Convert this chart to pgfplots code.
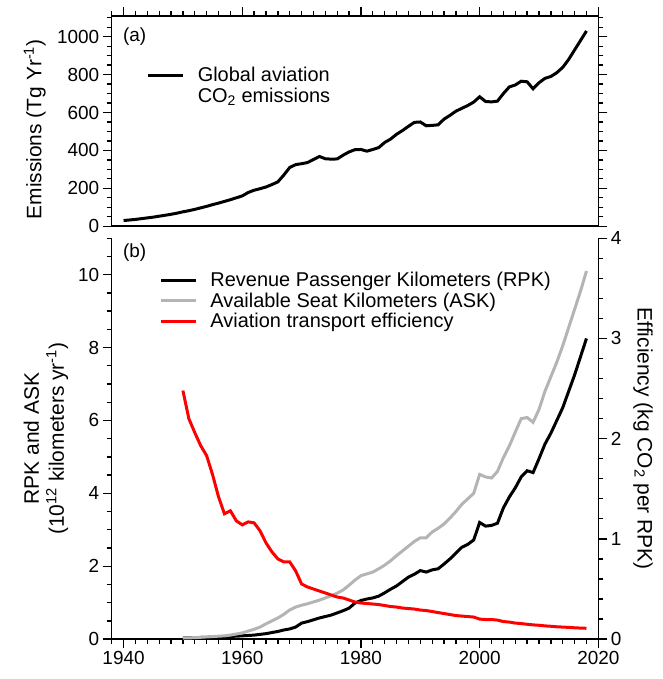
\documentclass[border=0pt]{standalone}
\usepackage{fontspec}
\setmainfont{Liberation Sans}
\usepackage{pgfplots}
\usepackage{pgfplotstable}
\pgfplotsset{compat=1.18}

% global aviation CO2 emissions (Tg/yr)
\pgfplotstableread{
year co2
1940 30
1941 33
1942 36
1943 40
1944 44
1945 48
1946 53
1947 58
1948 63
1949 69
1950 76
1951 82
1952 89
1953 97
1954 105
1955 114
1956 122
1957 131
1958 140
1959 150
1960 160
1961 178
1962 190
1963 198
1964 207
1965 220
1966 234
1967 270
1968 310
1969 325
1970 330
1971 336
1972 352
1973 368
1974 356
1975 354
1976 355
1977 375
1978 392
1979 404
1980 405
1981 396
1982 405
1983 415
1984 442
1985 460
1986 485
1987 505
1988 527
1989 548
1990 550
1991 530
1992 532
1993 535
1994 565
1995 585
1996 607
1997 622
1998 637
1999 655
2000 683
2001 658
2002 656
2003 660
2004 700
2005 735
2006 745
2007 765
2008 762
2009 725
2010 757
2011 780
2012 790
2013 810
2014 838
2015 880
2016 930
2017 980
2018 1030
}\emis

% RPK, ASK (10^12 km/yr) and efficiency (kg CO2 per RPK)
\pgfplotstableread{
year rpk ask eff
1950 0.03 0.03 2.48
1951 0.035 0.035 2.20
1952 0.04 0.04 2.06
1953 0.045 0.05 1.93
1954 0.05 0.06 1.83
1955 0.055 0.07 1.64
1956 0.06 0.08 1.42
1957 0.07 0.09 1.25
1958 0.075 0.11 1.28
1959 0.08 0.14 1.18
1960 0.09 0.17 1.14
1961 0.10 0.22 1.17
1962 0.11 0.27 1.16
1963 0.13 0.33 1.08
1964 0.15 0.42 0.96
1965 0.18 0.50 0.87
1966 0.21 0.58 0.80
1967 0.25 0.68 0.77
1968 0.28 0.80 0.77
1969 0.33 0.88 0.68
1970 0.44 0.93 0.55
1971 0.48 0.97 0.52
1972 0.53 1.02 0.50
1973 0.58 1.07 0.48
1974 0.62 1.13 0.46
1975 0.66 1.19 0.44
1976 0.72 1.26 0.42
1977 0.78 1.35 0.41
1978 0.85 1.48 0.39
1979 0.99 1.62 0.37
1980 1.06 1.74 0.36
1981 1.10 1.79 0.355
1982 1.13 1.84 0.35
1983 1.18 1.93 0.345
1984 1.27 2.03 0.335
1985 1.37 2.15 0.325
1986 1.46 2.29 0.32
1987 1.58 2.42 0.31
1988 1.70 2.55 0.305
1989 1.78 2.68 0.30
1990 1.88 2.78 0.29
1991 1.84 2.78 0.285
1992 1.90 2.94 0.275
1993 1.93 3.04 0.265
1994 2.06 3.16 0.255
1995 2.20 3.32 0.245
1996 2.36 3.50 0.235
1997 2.52 3.70 0.23
1998 2.60 3.85 0.225
1999 2.72 4.00 0.22
2000 3.20 4.52 0.20
2001 3.10 4.45 0.195
2002 3.12 4.42 0.195
2003 3.18 4.60 0.19
2004 3.60 4.98 0.175
2005 3.90 5.30 0.17
2006 4.15 5.68 0.16
2007 4.45 6.05 0.155
2008 4.62 6.08 0.148
2009 4.57 5.95 0.142
2010 4.95 6.30 0.138
2011 5.35 6.80 0.132
2012 5.65 7.20 0.128
2013 6.00 7.60 0.123
2014 6.35 8.05 0.12
2015 6.80 8.55 0.117
2016 7.25 9.05 0.113
2017 7.75 9.55 0.11
2018 8.25 10.10 0.108
}\traffic

\definecolor{askgray}{RGB}{180,180,180}

\pgfplotsset{
  panel/.style={
    scale only axis, width=488pt,
    xmin=1938, xmax=2020,
    tick align=outside,
    major tick length=9pt, minor tick length=5pt,
    tick style={draw=black, line width=1.3pt},
    minor tick style={draw=black, line width=1.3pt},
    axis line style={line width=1.5pt},
    tick label style={font=\fontsize{19}{22}\selectfont},
    /pgf/number format/assume math mode=true,
    /pgf/number format/1000 sep={},
    label style={font=\fontsize{21}{25}\selectfont},
    legend style={draw=none, fill=none, font=\fontsize{20}{23}\selectfont,
      row sep=0.5pt, inner sep=0pt,
      /tikz/every odd column/.append style={column sep=11pt}},
    legend cell align=left,
    legend image code/.code={\draw[##1] (0pt,0pt) -- (35pt,0pt);},
  },
}

\begin{document}
\begin{tikzpicture}
% page frame, 664 x 679
\path (-112pt,-454pt) rectangle (552pt,225pt);

% (a) emissions
\begin{axis}[panel, name=top, at={(0,0)}, anchor=south west,
  height=211pt,
  ymin=0, ymax=1110,
  xtick={1940,1960,...,2020}, minor xtick={1938,1940,...,2020},
  xticklabels={},
  xtick pos=right,
  ytick={0,200,...,1000}, minor ytick={0,50,...,1100},
  yticklabel pos=left,
  ytick pos=both,
  ylabel={Emissions (Tg Yr\textsuperscript{-1})},
  ylabel style={at={(axis description cs:-0.158,0.46)}, rotate=0, anchor=center},
  legend style={at={(axis description cs:0.072,0.765)}, anchor=north west},
]
\addplot[black, line width=3pt] table[x=year, y=co2] {\emis};
\addlegendentry{Global aviation}
\addlegendimage{empty legend}
\addlegendentry{CO\textsubscript{2} emissions}
\node[anchor=west, font=\fontsize{19}{22}\selectfont] at (axis description cs:0.016,0.90) {(a)};
\end{axis}

% (b) RPK and ASK, left axis
\begin{axis}[panel, name=bot, at={(0,-12pt)}, anchor=north west,
  height=402pt,
  ymin=0, ymax=11,
  axis x line*=bottom, axis y line*=left,
  xtick={1940,1960,...,2020}, minor xtick={1938,1940,...,2020},
  ytick={0,2,...,10}, minor ytick={0,0.5,...,11},
  ylabel={RPK and ASK\\(10\textsuperscript{12} kilometers yr\textsuperscript{-1})},
  ylabel style={at={(axis description cs:-0.135,0.5)}, rotate=0, anchor=center, align=center},
  legend style={at={(axis description cs:0.098,0.92)}, anchor=north west},
]
\addplot[black, line width=3pt] table[x=year, y=rpk] {\traffic};
\addlegendentry{Revenue Passenger Kilometers (RPK)}
\addplot[askgray, line width=3pt] table[x=year, y=ask] {\traffic};
\addlegendentry{Available Seat Kilometers (ASK)}
\addlegendimage{red, line width=3pt}
\addlegendentry{Aviation transport efficiency}
\node[anchor=west, font=\fontsize{19}{22}\selectfont] at (axis description cs:0.016,0.963) {(b)};
\end{axis}

% (b) efficiency, right axis
\begin{axis}[panel, at={(0,-12pt)}, anchor=north west,
  height=402pt,
  ymin=0, ymax=4,
  axis x line=none, axis y line*=right,
  ytick={0,1,...,4}, minor ytick={0,0.2,...,4},
  ylabel={Efficiency (kg CO\textsubscript{2} per RPK)},
  ylabel style={at={(axis description cs:1.092,0.5)}, rotate=180, anchor=center},
]
\addplot[red, line width=3pt] table[x=year, y=eff] {\traffic};
\end{axis}
\end{tikzpicture}
\end{document}
